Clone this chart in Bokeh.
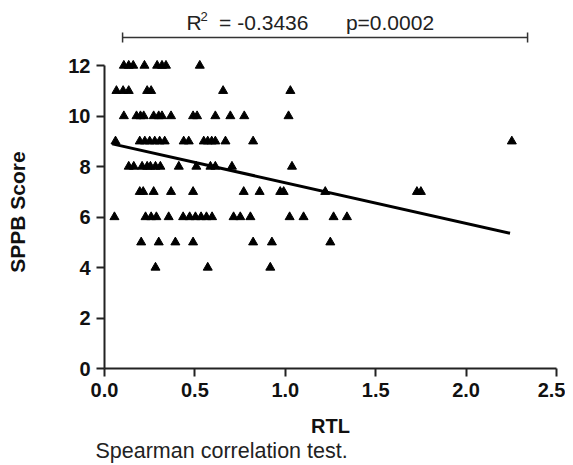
from bokeh.plotting import figure
from bokeh.layouts import column
from bokeh.models import FixedTicker, PrintfTickFormatter, Label, ColumnDataSource, Range1d, Title
from bokeh.embed import file_html
from bokeh.resources import INLINE

# ---- data ----
x_ticks = [0.0, 0.5, 1.0, 1.5, 2.0, 2.5]
y_ticks = [0, 2, 4, 6, 8, 10, 12]

row12_x = [0.107, 0.134, 0.159, 0.221, 0.291, 0.318, 0.340, 0.527]
row11_x = [0.066, 0.103, 0.134, 0.236, 0.258, 0.656, 1.028]
row10_x = [0.107, 0.177, 0.199, 0.217, 0.272, 0.300, 0.318, 0.368, 0.490, 0.512,
           0.613, 0.696, 0.773, 1.018]
row9_x = [0.061, 0.195, 0.223, 0.250, 0.278, 0.305, 0.333, 0.438, 0.466, 0.549,
          0.571, 0.593, 0.613, 0.669, 0.822, 2.253]
row8_x = [0.134, 0.162, 0.208, 0.236, 0.254, 0.282, 0.309, 0.411, 0.508, 0.586,
          0.613, 0.705, 1.037]
row7_x = [0.195, 0.214, 0.272, 0.368, 0.490, 0.770, 0.858, 0.972, 0.991, 1.221,
          1.728, 1.750]
row6_x = [0.055, 0.227, 0.258, 0.287, 0.355, 0.435, 0.471, 0.503, 0.534, 0.564,
          0.595, 0.714, 0.751, 0.807, 1.024, 1.101, 1.267, 1.341]
row5_x = [0.203, 0.300, 0.392, 0.490, 0.822, 0.926, 1.249]
row4_x = [0.282, 0.571, 0.917]

rows = {12: row12_x, 11: row11_x, 10: row10_x, 9: row9_x, 8: row8_x,
        7: row7_x, 6: row6_x, 5: row5_x, 4: row4_x}

fit_x = [0.043, 2.243]
fit_y = [8.90, 5.36]

bracket_x = [0.10, 2.34]

r2_value = "= -0.3436"
p_text = "p=0.0002"
note_text = "Spearman correlation test."
x_label = "RTL"
y_label = "SPPB Score"

# ---- build ----
rtl = []
sppb = []
for score, xs in rows.items():
    for xv in xs:
        rtl.append(xv)
        sppb.append(score)
src = ColumnDataSource(dict(rtl=rtl, sppb=sppb))

FONT = "Liberation Sans"
xr = Range1d(0, 2.5)
TXT = "#222222"

# top strip: bracket + statistics text
top = figure(width=565, height=55, x_range=xr, y_range=(0, 55),
             output_backend="svg", toolbar_location=None,
             x_axis_location=None, y_axis_location=None,
             min_border_left=104, min_border_right=9, min_border_top=0,
             min_border_bottom=0)
top.outline_line_color = None
top.grid.visible = False
top.segment(x0=[bracket_x[0], bracket_x[0], bracket_x[1]],
            y0=[18, 13, 13],
            x1=[bracket_x[1], bracket_x[0], bracket_x[1]],
            y1=[18, 23, 23],
            line_color="#333333", line_width=1.5)
top.add_layout(Label(x=0.4535, y=33, text="R", text_align="left",
                     text_baseline="middle", text_font=FONT,
                     text_font_size="21px", text_color=TXT))
top.add_layout(Label(x=0.531, y=39.5, text="2", text_align="left",
                     text_baseline="middle", text_font=FONT,
                     text_font_size="13px", text_color=TXT))
top.add_layout(Label(x=1.128, y=33, text=r2_value, text_align="right",
                     text_baseline="middle", text_font=FONT,
                     text_font_size="21px", text_color=TXT))
top.add_layout(Label(x=1.579, y=33, text=p_text, text_align="center",
                     text_baseline="middle", text_font=FONT,
                     text_font_size="21px", text_color=TXT))

# main scatter
p = figure(width=565, height=353, x_range=xr, y_range=(0, 12.4),
           output_backend="svg", toolbar_location=None,
           min_border_left=104, min_border_right=9, min_border_top=0,
           min_border_bottom=40)
p.outline_line_color = None
p.grid.visible = False

p.scatter("rtl", "sppb", source=src, marker="triangle", size=9,
          fill_color="black", line_color="black")
p.line(fit_x, fit_y, line_color="black", line_width=3)

for ax in (p.xaxis[0], p.yaxis[0]):
    ax.axis_line_width = 2
    ax.axis_line_color = "#222222"
    ax.major_tick_line_width = 2
    ax.major_tick_line_color = "#222222"
    ax.major_tick_out = 8
    ax.major_tick_in = 0
    ax.minor_tick_line_color = None
    ax.major_label_text_font = FONT
    ax.major_label_text_font_style = "bold"
    ax.major_label_text_font_size = "20px"
    ax.major_label_text_color = "#111111"
    ax.axis_label_text_font = FONT
    ax.axis_label_text_font_style = "bold"
    ax.axis_label_text_font_size = "21px"
    ax.axis_label_text_color = "#111111"

p.xaxis[0].ticker = FixedTicker(ticks=x_ticks)
p.xaxis[0].formatter = PrintfTickFormatter(format="%.1f")
p.xaxis[0].major_label_standoff = 6

p.yaxis[0].ticker = FixedTicker(ticks=y_ticks)
p.yaxis[0].bounds = (0, 12)
p.yaxis[0].major_label_standoff = 6
p.yaxis[0].axis_label = y_label
p.yaxis[0].axis_label_standoff = 36

# bottom strip: x-axis title and note
bot = figure(width=565, height=57, x_range=xr, y_range=(0, 1),
             output_backend="svg", toolbar_location=None,
             x_axis_location=None, y_axis_location=None,
             min_border_left=104, min_border_right=9, min_border_top=0,
             min_border_bottom=53)
bot.outline_line_color = None
bot.grid.visible = False
bot.add_layout(Title(text=x_label, align="center", standoff=0,
                     text_font=FONT, text_font_style="bold",
                     text_font_size="20px", text_color="#111111"), "below")
bot.add_layout(Title(text=note_text, align="left", offset=-9, standoff=0,
                     text_font=FONT, text_font_style="normal",
                     text_font_size="21.5px", text_color=TXT), "below")

open("out.html", "w").write(file_html(column(top, p, bot, spacing=0), INLINE))
